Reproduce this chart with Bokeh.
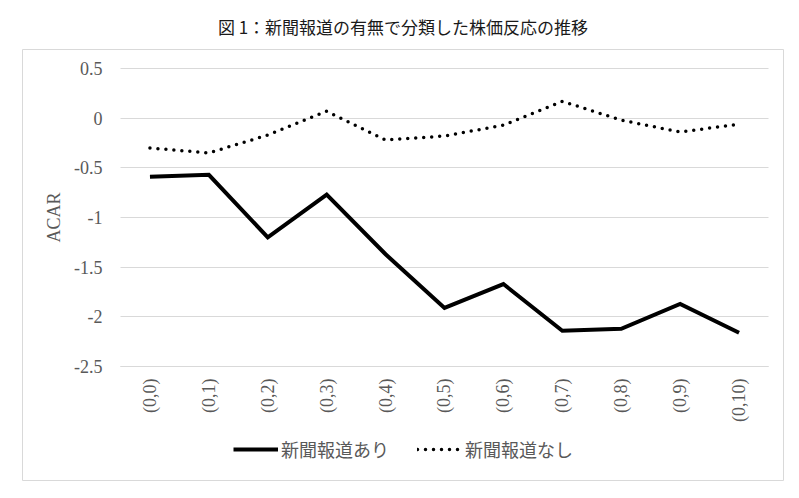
import math
from bokeh.plotting import figure
from bokeh.models import Range1d, FixedTicker, Legend, LegendItem
from bokeh.embed import file_html
from bokeh.resources import INLINE

periods = ["(0,0)", "(0,1)", "(0,2)", "(0,3)", "(0,4)", "(0,5)",
           "(0,6)", "(0,7)", "(0,8)", "(0,9)", "(0,10)"]
with_news = [-0.59, -0.57, -1.20, -0.77, -1.37, -1.91, -1.67, -2.14, -2.12, -1.87, -2.16]
without_news = [-0.30, -0.35, -0.17, 0.07, -0.22, -0.18, -0.07, 0.17, -0.02, -0.14, -0.06]
y_ticks = [0.5, 0.0, -0.5, -1.0, -1.5, -2.0, -2.5]
y_tick_labels = ["0.5", "0", "-0.5", "-1", "-1.5", "-2", "-2.5"]
title_text = "図 1：新聞報道の有無で分類した株価反応の推移"
series_names = ["新聞報道あり", "新聞報道なし"]

GREY = "#595959"
SERIF = "Liberation Serif"
CJK = "Noto Sans CJK JP"

x_pos = list(range(len(periods)))
x_lo, x_hi = -0.5, len(periods) - 0.5
y_lo, y_hi = min(y_ticks), max(y_ticks)

# chart box: frame spans the whole bordered box; plot area sits inside it
p = figure(width=799, height=498, output_backend="svg", toolbar_location=None,
           x_range=Range1d(x_lo - 1.6636, x_hi + 0.2546),
           y_range=Range1d(y_lo - 1.1477, y_hi + 0.1913),
           min_border_left=22, min_border_right=16, min_border_top=49, min_border_bottom=18)
p.background_fill_color = "white"
p.border_fill_color = "white"
p.outline_line_color = "#d9d9d9"
p.outline_line_width = 1

p.title.text = title_text
p.title.align = "center"
p.title.vertical_align = "top"
p.title.text_font = CJK
p.title.text_font_size = "17px"
p.title.text_font_style = "normal"
p.title.text_color = "#1a1a1a"
p.title.standoff = 18

r1 = p.line(x_pos, with_news, line_color="black", line_width=4, line_join="miter")
r2 = p.line(x_pos, without_news, line_color="black", line_width=3.5,
            line_dash="0 8", line_cap="round")

p.xgrid.grid_line_color = None
p.ygrid.ticker = FixedTicker(ticks=y_ticks)
p.ygrid.grid_line_color = "#d9d9d9"
p.ygrid.grid_line_width = 1
p.ygrid.cross_bounds = (x_lo, x_hi)

yax = p.yaxis[0]
yax.fixed_location = x_lo
yax.bounds = (y_lo, y_hi)
yax.ticker = FixedTicker(ticks=y_ticks)
yax.major_label_overrides = dict(zip(y_ticks, y_tick_labels))
yax.axis_line_color = None
yax.major_tick_line_color = None
yax.minor_tick_line_color = None
yax.major_tick_out = 0
yax.major_tick_in = 0
yax.major_label_text_font = SERIF
yax.major_label_text_font_size = "18px"
yax.major_label_text_color = GREY
yax.major_label_standoff = 18
yax.axis_label = "ACAR"
yax.axis_label_text_font = SERIF
yax.axis_label_text_font_style = "normal"
yax.axis_label_text_font_size = "18px"
yax.axis_label_text_color = GREY
yax.axis_label_standoff = 7

xax = p.xaxis[0]
xax.fixed_location = y_lo
xax.bounds = (x_lo, x_hi)
xax.ticker = FixedTicker(ticks=x_pos)
xax.major_label_overrides = dict(zip(x_pos, periods))
xax.axis_line_color = "#d9d9d9"
xax.major_tick_line_color = None
xax.minor_tick_line_color = None
xax.major_tick_out = 0
xax.major_tick_in = 0
xax.major_label_orientation = math.pi / 2
xax.major_label_text_font = SERIF
xax.major_label_text_font_size = "18px"
xax.major_label_text_color = GREY
xax.major_label_standoff = 12

legend = Legend(items=[LegendItem(label=series_names[0], renderers=[r1]),
                       LegendItem(label=series_names[1], renderers=[r2])],
                orientation="horizontal", location=(211, 18),
                border_line_alpha=0, background_fill_alpha=0,
                glyph_width=45, glyph_height=20, label_standoff=3, spacing=28,
                padding=0, margin=0,
                label_text_font=CJK, label_text_font_size="18px",
                label_text_color=GREY)
p.add_layout(legend)

open("out.html", "w").write(file_html(p, INLINE))
